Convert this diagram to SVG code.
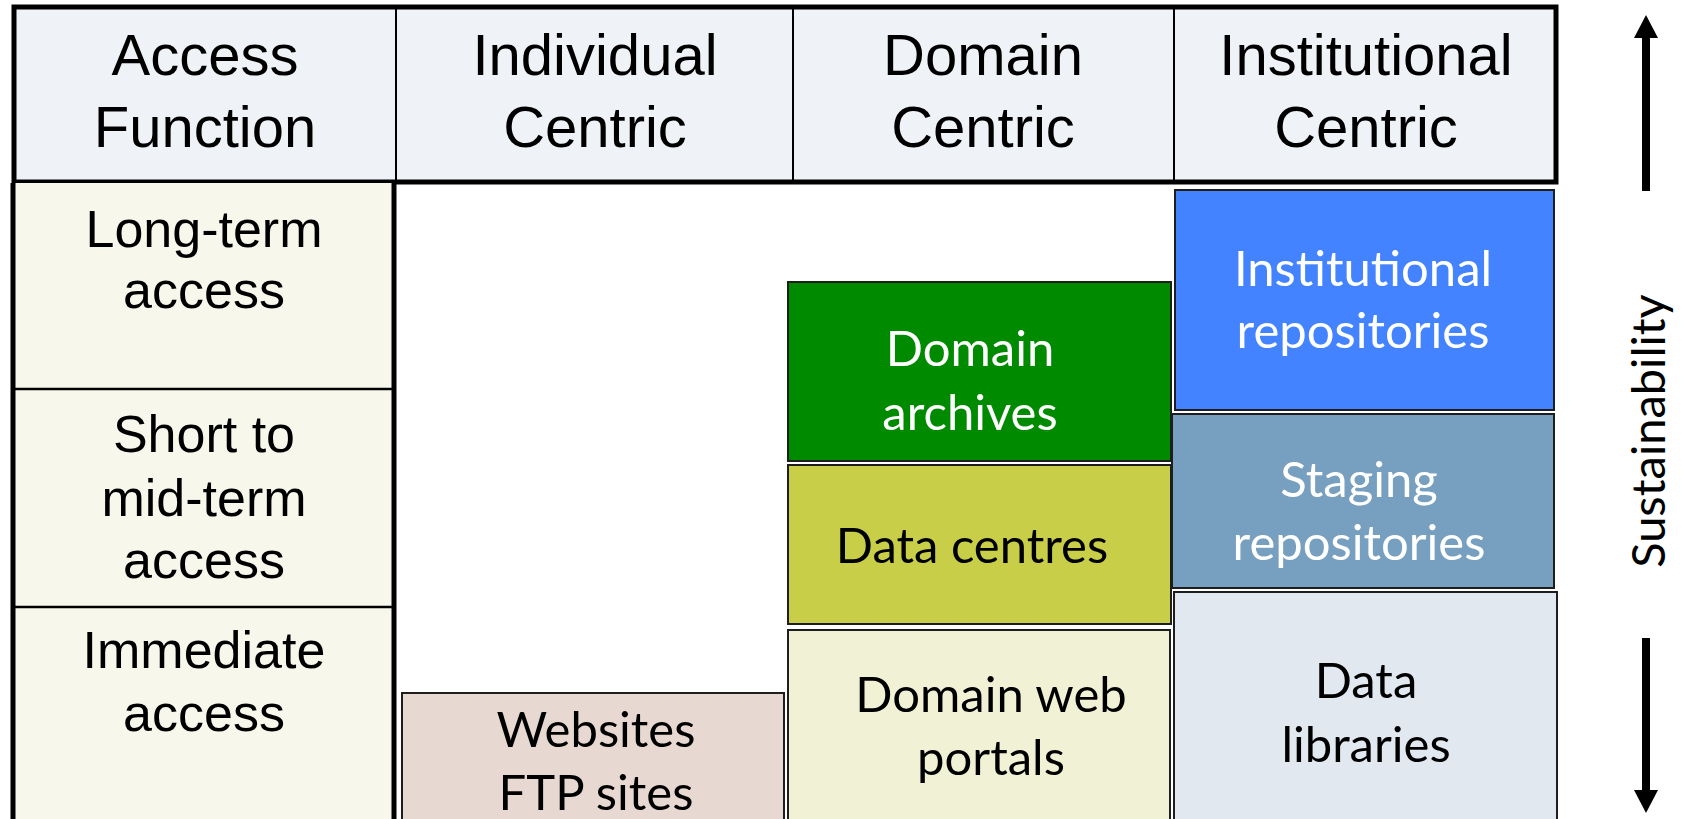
<svg xmlns="http://www.w3.org/2000/svg" width="1688" height="819" viewBox="0 0 1688 819">
<style>
.hd{font-family:"Liberation Sans",Arial,sans-serif;font-size:58px;fill:#000;text-anchor:middle}
.lc{font-family:"Liberation Sans",Arial,sans-serif;font-size:52px;fill:#000;text-anchor:middle}
.bx{font-family:Lato,"Open Sans",sans-serif;font-size:49px;text-anchor:middle}
.box{stroke:#1e1e1e;stroke-width:2}
.w{fill:#fff}
.k{fill:#000}
</style>
<rect width="1688" height="819" fill="#fff"/>
<g id="header">
<rect x="14" y="7" width="1542" height="175" fill="#EFF3F8" stroke="#000" stroke-width="5"/>
<line x1="396" y1="7" x2="396" y2="182" stroke="#000" stroke-width="2"/>
<line x1="793" y1="7" x2="793" y2="182" stroke="#000" stroke-width="2"/>
<line x1="1174" y1="7" x2="1174" y2="182" stroke="#000" stroke-width="2"/>
<text class="hd" x="205" y="75">Access</text><text class="hd" x="205" y="147">Function</text>
<text class="hd" x="595" y="75">Individual</text><text class="hd" x="595" y="147">Centric</text>
<text class="hd" x="983" y="75">Domain</text><text class="hd" x="983" y="147">Centric</text>
<text class="hd" x="1366" y="75">Institutional</text><text class="hd" x="1366" y="147">Centric</text>
</g>
<g id="access-column">
<rect x="13" y="183" width="381" height="640" fill="#F7F8EB"/>
<line x1="13" y1="183" x2="13" y2="819" stroke="#000" stroke-width="5"/>
<line x1="394" y1="183" x2="394" y2="819" stroke="#000" stroke-width="5"/>
<line x1="13" y1="389" x2="394" y2="389" stroke="#000" stroke-width="2.5"/>
<line x1="13" y1="607" x2="394" y2="607" stroke="#000" stroke-width="2.5"/>
<text class="lc" x="204" y="247">Long-term</text><text class="lc" x="204" y="308">access</text>
<text class="lc" x="204" y="452">Short to</text><text class="lc" x="204" y="516">mid-term</text><text class="lc" x="204" y="578">access</text>
<text class="lc" x="204" y="668">Immediate</text><text class="lc" x="204" y="731">access</text>
</g>
<g id="websites">
<rect class="box" x="402" y="693" width="382" height="130" fill="#E8D8D2"/>
<text class="bx k" x="596" y="747">Websites</text><text class="bx k" x="596" y="810">FTP sites</text>
</g>
<g id="domain-archives">
<rect class="box" x="788" y="282" width="383" height="179" fill="#008A00"/>
<text class="bx w" x="970" y="366">Domain</text><text class="bx w" x="970" y="430">archives</text>
</g>
<g id="data-centres">
<rect class="box" x="788" y="465" width="383" height="159" fill="#C8CE48"/>
<text class="bx k" x="972" y="563">Data centres</text>
</g>
<g id="domain-web-portals">
<rect class="box" x="788" y="630" width="382" height="193" fill="#F0F1D5"/>
<text class="bx k" x="991" y="712">Domain web</text><text class="bx k" x="991" y="775">portals</text>
</g>
<g id="institutional-repositories">
<rect class="box" x="1175" y="190" width="379" height="220" fill="#4483FF"/>
<text class="bx w" x="1363" y="286">Institutional</text><text class="bx w" x="1363" y="348">repositories</text>
</g>
<g id="staging-repositories">
<rect class="box" x="1172" y="414" width="382" height="174" fill="#779FBF"/>
<text class="bx w" x="1359" y="497">Staging</text><text class="bx w" x="1359" y="560">repositories</text>
</g>
<g id="data-libraries">
<rect class="box" x="1174" y="592" width="383" height="231" fill="#E1E8EF"/>
<text class="bx k" x="1366" y="698">Data</text><text class="bx k" x="1366" y="762">libraries</text>
</g>
<g id="connectors">
<line x1="1646" y1="36" x2="1646" y2="191" stroke="#000" stroke-width="8"/>
<polygon points="1646,15 1634,38 1658,38" fill="#000"/>
<line x1="1646" y1="638" x2="1646" y2="792" stroke="#000" stroke-width="8"/>
<polygon points="1646,813 1634,790 1658,790" fill="#000"/>
</g>
<g id="sustainability">
<text class="bx k" style="font-size:47px" transform="translate(1665,431) rotate(-90)" x="0" y="0">Sustainability</text>
</g>
</svg>
